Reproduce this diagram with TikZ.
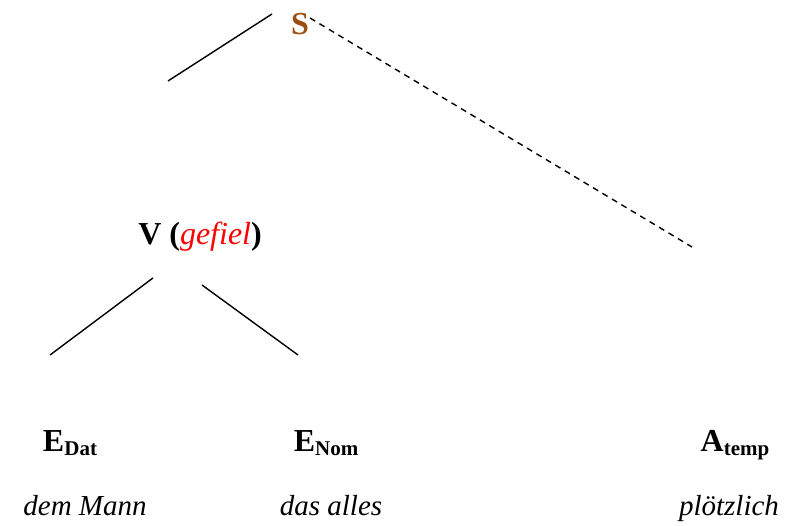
\documentclass[tikz,border=0pt]{standalone}
\usepackage{fontspec}
\setmainfont{Liberation Serif}
\usepackage{tikz}
\definecolor{treeBrown}{HTML}{9A4E12}
\definecolor{treeRed}{HTML}{FF0000}
\newcommand{\catsub}[2]{#1\raisebox{-3pt}{\fontsize{21}{25}\selectfont #2}}
\begin{document}
\begin{tikzpicture}[x=1pt,y=-1pt,
  cat/.style={anchor=base,font=\bfseries\fontsize{32}{38}\selectfont},
  word/.style={anchor=base,font=\itshape\fontsize{29}{34}\selectfont},
  branch/.style={line width=1.4pt,draw=black},
  adjunct/.style={line width=1.4pt,draw=black,dashed,dash pattern=on 6pt off 5pt}]
\useasboundingbox (0,0) rectangle (790,526);
\node[cat,text=treeBrown] (s) at (300,35) {S};
\node[cat] (v) at (200,245) {V (\textcolor{treeRed}{\mdseries\itshape gefiel})};
\node[cat] (edat) at (70,452) {\catsub{E}{Dat}};
\node[cat] (enom) at (326,452) {\catsub{E}{Nom}};
\node[cat] (atemp) at (735,452) {\catsub{A}{temp}};
\node[word] (mann) at (85,515) {dem Mann};
\node[word] (alles) at (331,515) {das alles};
\node[word] (ploetz) at (729,515) {plötzlich};
% free ends of the branches
\coordinate (sleft) at (168,81);
\coordinate (sright) at (692,247);
\coordinate (vleft) at (50,355);
\coordinate (vright) at (298,355);
\draw[branch] (272,14) -- (sleft);
\draw[adjunct] (310,18) -- (sright);
\draw[branch] (153,278) -- (vleft);
\draw[branch] (202,285) -- (vright);
\end{tikzpicture}
\end{document}
